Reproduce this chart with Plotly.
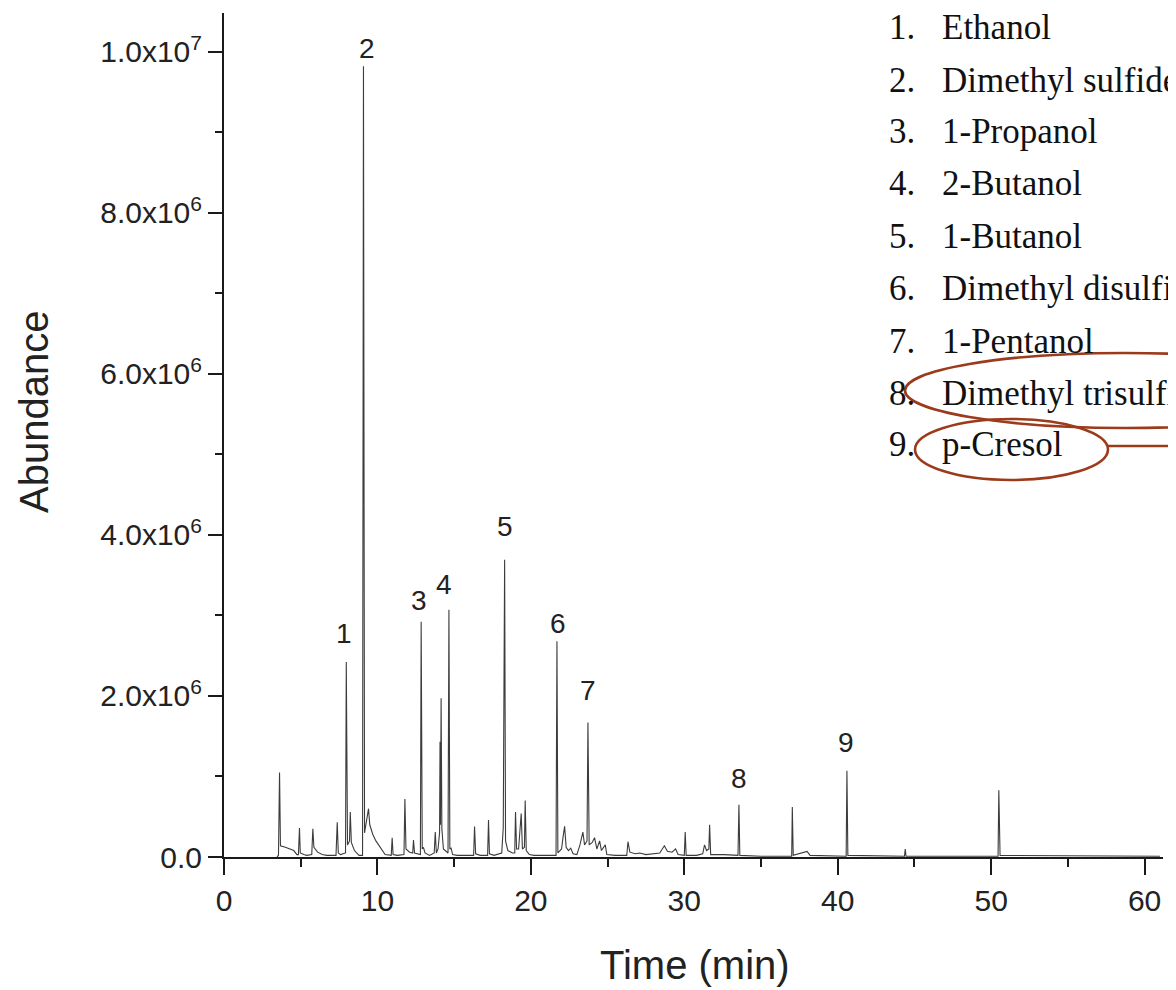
import plotly.graph_objects as go

# ---------------- data ----------------
# retention time (min) and abundance (x1e6) of the chromatogram trace
time_min = [3.45, 3.55, 3.62, 3.68, 4.0, 4.3, 4.55, 4.75, 4.85, 4.92, 4.97, 5.2, 5.4, 5.72, 5.79, 5.86,
            6.1, 6.4, 6.7, 7.3, 7.38, 7.45, 7.6, 7.92, 7.97, 8.05, 8.18, 8.23, 8.3, 8.5, 8.8, 9.03,
            9.09, 9.16, 9.3, 9.42, 9.5, 9.7, 9.9, 10.1, 10.3, 10.5, 10.9, 10.96, 11.02, 11.3, 11.73,
            11.79, 11.86, 12.1, 12.3, 12.35, 12.42, 12.8, 12.85, 12.92, 13.0, 13.1, 13.4, 13.7, 13.77,
            13.84, 13.95, 14.05, 14.08, 14.11, 14.15, 14.2, 14.3, 14.6, 14.66, 14.72, 14.8, 14.9, 15.2,
            16.27, 16.33, 16.4, 16.7, 17.18, 17.24, 17.3, 17.6, 18.1, 18.2, 18.29, 18.35, 18.5, 18.8,
            18.95, 19.0, 19.07, 19.2, 19.37, 19.45, 19.58, 19.63, 19.7, 19.9, 20.2, 21.64, 21.7, 21.76,
            22.0, 22.1, 22.2, 22.3, 22.45, 22.6, 22.75, 23.0, 23.2, 23.39, 23.5, 23.66, 23.72, 23.8,
            24.0, 24.15, 24.3, 24.48, 24.6, 24.85, 24.95, 25.5, 26.25, 26.33, 26.45, 26.8, 27.1, 27.5,
            28.0, 28.4, 28.7, 28.9, 29.2, 29.43, 29.6, 30.0, 30.06, 30.12, 30.8, 31.2, 31.32, 31.45,
            31.6, 31.65, 31.72, 32.6, 33.5, 33.56, 33.62, 35.0, 37.0, 37.04, 37.1, 38.0, 38.2, 40.55,
            40.6, 40.66, 44.35, 44.4, 44.45, 50.45, 50.5, 50.58, 61.0]
abundance_e6 = [0.0, 0.02, 1.05, 0.14, 0.12, 0.10, 0.08, 0.03, 0.03, 0.36, 0.05, 0.03, 0.02, 0.03, 0.35, 0.12,
                0.06, 0.03, 0.02, 0.02, 0.43, 0.05, 0.03, 0.05, 2.42, 0.15, 0.20, 0.56, 0.18, 0.08, 0.02, 0.02,
                9.82, 0.30, 0.45, 0.60, 0.40, 0.28, 0.20, 0.14, 0.08, 0.03, 0.02, 0.24, 0.03, 0.02, 0.03,
                0.72, 0.10, 0.06, 0.05, 0.21, 0.05, 0.03, 2.92, 0.10, 0.12, 0.05, 0.02, 0.05, 0.31,
                0.05, 0.10, 0.30, 1.43, 0.40, 1.97, 0.35, 0.10, 0.05, 3.07, 0.10, 0.11, 0.03, 0.02,
                0.02, 0.38, 0.04, 0.02, 0.02, 0.46, 0.04, 0.02, 0.05, 0.36, 3.69, 0.20, 0.08, 0.05,
                0.05, 0.56, 0.10, 0.10, 0.54, 0.10, 0.12, 0.70, 0.08, 0.03, 0.02, 0.02, 2.68, 0.05,
                0.10, 0.25, 0.38, 0.12, 0.08, 0.11, 0.04, 0.03, 0.15, 0.31, 0.15, 0.20, 1.67, 0.15,
                0.18, 0.24, 0.10, 0.20, 0.08, 0.15, 0.03, 0.02, 0.02, 0.19, 0.06, 0.04, 0.05, 0.03,
                0.04, 0.05, 0.14, 0.07, 0.06, 0.10, 0.03, 0.02, 0.31, 0.02, 0.02, 0.04, 0.15, 0.08,
                0.10, 0.40, 0.03, 0.03, 0.02, 0.65, 0.02, 0.01, 0.01, 0.62, 0.02, 0.07, 0.02, 0.01,
                1.07, 0.02, 0.01, 0.10, 0.01, 0.01, 0.83, 0.02, 0.01]

# labelled peaks: number, retention time, apex abundance (x1e6)
peak_numbers = ["1", "2", "3", "4", "5", "6", "7", "8", "9"]
peak_times = [7.97, 9.09, 12.85, 14.66, 18.29, 21.70, 23.72, 33.56, 40.60]
peak_heights_e6 = [2.42, 9.82, 2.92, 3.07, 3.69, 2.68, 1.67, 0.65, 1.07]

compound_names = ["Ethanol", "Dimethyl sulfide", "1-Propanol", "2-Butanol", "1-Butanol",
                  "Dimethyl disulfide", "1-Pentanol", "Dimethyl trisulfide", "p-Cresol"]

x_tick_vals = [0, 10, 20, 30, 40, 50, 60]
y_tick_vals = [0, 2e6, 4e6, 6e6, 8e6, 1e7]
y_tick_text = ["0.0", "2.0x10<sup>6</sup>", "4.0x10<sup>6</sup>", "6.0x10<sup>6</sup>",
               "8.0x10<sup>6</sup>", "1.0x10<sup>7</sup>"]

# ---------------- figure ----------------
# the page places the figure 8 px from the top-left corner of the window
OFF = 8
W, H = 1176 - OFF, 990 - OFF
ML, MR, MT, MB = 224 - OFF, 13, 13 - OFF, 133
PW, PH = W - ML - MR, H - MT - MB


def pxx(x):
    """window pixel x -> paper fraction"""
    return (x - OFF - ML) / PW


def pxy(y):
    """window pixel y -> paper fraction"""
    return (H - MB - (y - OFF)) / PH


SANS = "Liberation Sans, Arial, sans-serif"
SERIF = "Liberation Serif, Times New Roman, serif"
RED = "#9c3b1b"

fig = go.Figure()
fig.add_trace(go.Scatter(
    x=time_min,
    y=[a * 1e6 for a in abundance_e6],
    mode="lines",
    line=dict(color="#3c3c3c", width=1.1),
    hoverinfo="skip",
    showlegend=False,
))

annotations = []
# peak number labels: offsets in px from the apex
label_offsets = [(-2, 29), (4, 18), (-2, 21), (-5, 25), (0, 33), (1, 18), (0, 32), (0, 26), (-1, 28)]
for num, t, h, (dx, dy) in zip(peak_numbers, peak_times, peak_heights_e6, label_offsets):
    annotations.append(dict(
        x=t, y=h * 1e6, xref="x", yref="y", text=num, showarrow=False,
        xanchor="center", yanchor="middle", xshift=dx, yshift=dy,
        font=dict(family=SANS, size=28, color="#222222"),
    ))

# compound list (top right)
baselines = [39, 92, 144, 195, 248, 300, 353, 405, 457]
for i, (name, bl) in enumerate(zip(compound_names, baselines)):
    annotations.append(dict(
        x=pxx(887), y=pxy(bl - 12), xref="paper", yref="paper", text=f"{i + 1}.",
        showarrow=False, xanchor="left", yanchor="middle",
        font=dict(family=SERIF, size=35, color="#111111"),
    ))
    annotations.append(dict(
        x=pxx(940), y=pxy(bl - 12), xref="paper", yref="paper", text=name,
        showarrow=False, xanchor="left", yanchor="middle",
        font=dict(family=SERIF, size=35, color="#111111"),
    ))

# axis titles
annotations.append(dict(
    x=pxx(695), y=pxy(965), xref="paper", yref="paper", text="Time (min)",
    showarrow=False, xanchor="center", yanchor="middle",
    font=dict(family=SANS, size=40, color="#222222"),
))
annotations.append(dict(
    x=pxx(34), y=pxy(412), xref="paper", yref="paper", text="Abundance",
    showarrow=False, xanchor="center", yanchor="middle", textangle=-90,
    font=dict(family=SANS, size=40, color="#222222"),
))

shapes = [
    dict(type="circle", xref="paper", yref="paper",
         x0=pxx(905), x1=pxx(1345), y0=pxy(428), y1=pxy(353),
         line=dict(color=RED, width=2.6)),
    dict(type="circle", xref="paper", yref="paper",
         x0=pxx(915), x1=pxx(1108), y0=pxy(480), y1=pxy(419),
         line=dict(color=RED, width=2.6)),
    dict(type="line", xref="paper", yref="paper",
         x0=pxx(1108), x1=pxx(1200), y0=pxy(446), y1=pxy(446),
         line=dict(color=RED, width=2.4)),
]

fig.update_layout(
    width=W, height=H,
    margin=dict(l=ML, r=MR, t=MT, b=MB, pad=0),
    paper_bgcolor="white", plot_bgcolor="white",
    showlegend=False,
    annotations=annotations,
    shapes=shapes,
    xaxis=dict(
        range=[0, 61.2], tickvals=x_tick_vals, showgrid=False, zeroline=False,
        showline=True, linecolor="#1a1a1a", linewidth=2,
        ticks="outside", ticklen=16, tickwidth=2, tickcolor="#1a1a1a",
        minor=dict(dtick=5, ticks="outside", ticklen=8, tickwidth=2, tickcolor="#1a1a1a"),
        tickfont=dict(family=SANS, size=30, color="#222222"),
    ),
    yaxis=dict(
        range=[0, 10.48e6], tickvals=y_tick_vals, ticktext=y_tick_text,
        showgrid=False, zeroline=False,
        showline=True, linecolor="#1a1a1a", linewidth=2,
        ticks="outside", ticklen=14, tickwidth=2, tickcolor="#1a1a1a",
        minor=dict(dtick=1e6, ticks="outside", ticklen=7, tickwidth=2, tickcolor="#1a1a1a"),
        tickfont=dict(family=SANS, size=30, color="#222222"),
    ),
)

fig.write_html("out.html")
